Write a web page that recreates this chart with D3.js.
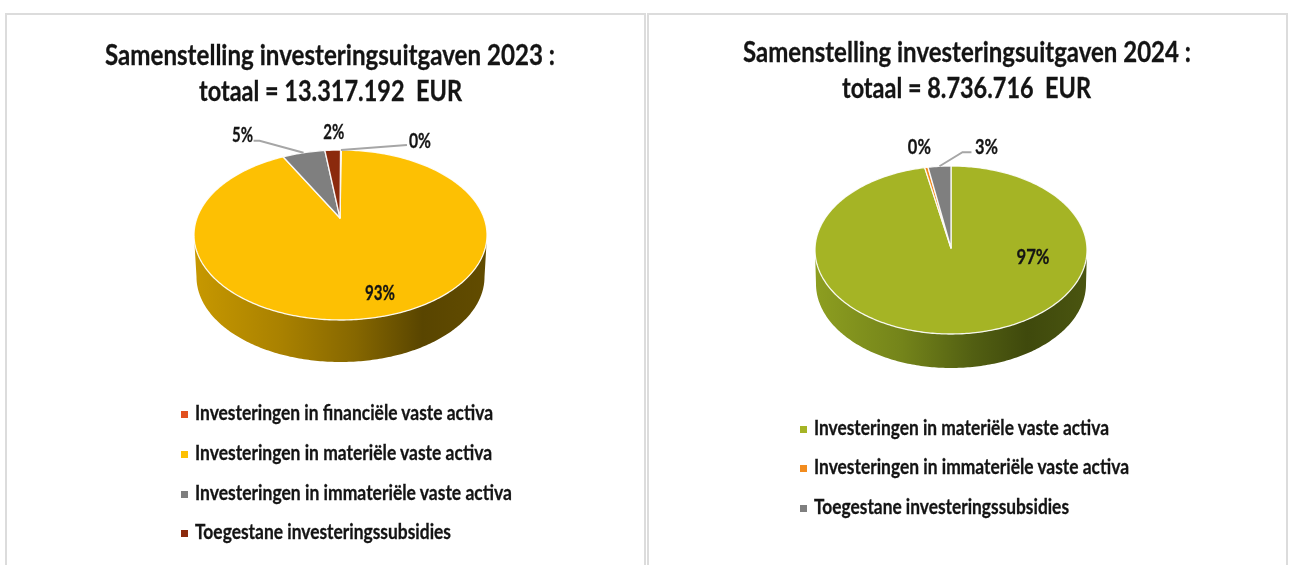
<!DOCTYPE html>
<html><head><meta charset="utf-8">
<script src="https://cdnjs.cloudflare.com/ajax/libs/d3/7.8.5/d3.min.js"></script>
<style>html,body{margin:0;padding:0;background:#fff}svg{display:block;filter:blur(.5px)}text{font-family:Lato,"Liberation Sans",sans-serif;font-weight:700;fill:#141414;stroke:#141414;stroke-width:.3;white-space:pre}</style>
</head><body><svg id="c" width="1291" height="565"></svg>
<script>
// ---- data ----
const categories2023 = ["Investeringen in financiële vaste activa","Investeringen in materiële vaste activa","Investeringen in immateriële vaste activa","Toegestane investeringssubsidies"];
const values2023 = [0.1, 93.49, 4.71, 1.7];
const colors2023 = ["#E2501F","#FDC003","#7F7F7F","#8B2A0D"];
const titles2023 = ["Samenstelling investeringsuitgaven 2023 :","totaal = 13.317.192  EUR"];

const categories2024 = ["Investeringen in materiële vaste activa","Investeringen in immateriële vaste activa","Toegestane investeringssubsidies"];
const values2024 = [96.9, 0.4, 2.7];
const colors2024 = ["#A5B425","#F28C1E","#7F7F7F"];
const titles2024 = ["Samenstelling investeringsuitgaven 2024 :","totaal = 8.736.716  EUR"];

// ---- layout (not data) ----
const layouts = [{
  panel:[6,14,639], cx:340.5, cy:235, rx:146.5, ry:85, apex:[340,218], depth:42, rxB:144,
  titleX:[[105,450],[199,263]], titleY:[65,101],
  legendX:195, legendW:[298,297,317,256], legendY:[420,460,500,539],
  grad:[["0%","#c79800"],["30%","#a98100"],["55%","#866700"],["78%","#594500"],["100%","#624c00"]],
  labels:[{dx:79,dy:-9,leader:[[0,0],[66,-5]]},{fx:[380,293]},{dx:-61,dy:-18,leader:[[0,0],[-44,-12],[-50,-12]]},{dx:1,dy:-18}],
  labelW:[22,30,21,21]
},{
  panel:[648,14,639], cx:951, cy:250, rx:136, ry:84, apex:[951,248], depth:34, rxB:135,
  titleX:[[743,448],[842,249]], titleY:[62,98],
  legendX:814, legendW:[295,315,255], legendY:[435,474,514],
  grad:[["0%","#8d9e20"],["32%","#74841a"],["58%","#525f12"],["78%","#3f490c"],["100%","#4a5510"]],
  labels:[{fx:[1033,257]},{dx:-7,dy:-20},{dx:47,dy:-19,leader:[[0,0],[23,-14],[32,-14]]}],
  labelW:[33,23,23]
}];
const svg = d3.select("#c");
const pct = v => d3.format(".0f")(v) + "%";
const defs = svg.append("defs");

function draw(title, cats, vals, cols, L, idx){
  const g = svg.append("g");
  g.append("path").attr("fill","none").attr("stroke","#dcdcdc").attr("stroke-width",2)
    .attr("d",d3.line()([[L.panel[0],565],[L.panel[0],L.panel[1]],[L.panel[0]+L.panel[2],L.panel[1]],[L.panel[0]+L.panel[2],565]]));
  title.forEach((t,i)=>g.append("text").text(t).attr("x",L.titleX[i][0]).attr("y",L.titleY[i])
    .attr("font-size",29).attr("textLength",L.titleX[i][1]).attr("lengthAdjust","spacingAndGlyphs"));

  const xS = d3.scaleLinear([-1,1],[L.cx-L.rx,L.cx+L.rx]);
  const yS = d3.scaleLinear([-1,1],[L.cy-L.ry,L.cy+L.ry]);
  const xB = d3.scaleLinear([-1,1],[L.cx-L.rxB,L.cx+L.rxB]);
  const yB = d3.scaleLinear([-1,1],[L.cy+L.depth-L.ry,L.cy+L.depth+L.ry]);
  const pt = (a,x=xS,y=yS)=>[x(Math.sin(a)),y(-Math.cos(a))];
  const samples = (a,b)=>{const n=Math.max(2,Math.ceil((b-a)*60));return d3.range(n+1).map(i=>a+(b-a)*i/n);};
  const line = d3.line();

  // side wall
  const id="side"+idx;
  const gr=defs.append("linearGradient").attr("id",id);
  L.grad.forEach(s=>gr.append("stop").attr("offset",s[0]).attr("stop-color",s[1]));
  const front=samples(Math.PI/2,Math.PI*1.5);
  g.append("path").attr("fill",`url(#${id})`)
    .attr("d",line(front.map(a=>pt(a)).concat(front.slice().reverse().map(a=>pt(a,xB,yB))))+"Z");

  // top slices
  const arcs=d3.pie().sort(null)(vals);
  g.selectAll("path.s").data(arcs).join("path").attr("class","s")
    .attr("fill",(d,i)=>cols[i]).attr("stroke","#fff").attr("stroke-opacity",.9).attr("stroke-width",1.3)
    .attr("stroke-linejoin","round")
    .attr("d",d=>line([L.apex].concat(samples(d.startAngle,d.endAngle).map(a=>pt(a))))+"Z");

  // leaders and labels
  arcs.forEach((d,i)=>{
    const c=L.labels[i], mid=(d.startAngle+d.endAngle)/2, p=pt(mid);
    let tx,ty;
    if(c.fx){[tx,ty]=c.fx;} else {tx=p[0]+c.dx;ty=p[1]+c.dy;}
    if(c.leader){
      g.append("path").attr("fill","none").attr("stroke","#a6a6a6").attr("stroke-width",1.9)
       .attr("d",line(c.leader.map(o=>[p[0]+o[0],p[1]+o[1]])));
    }
    g.append("text").text(pct(vals[i])).attr("text-anchor","start").attr("font-size",21)
      .attr("x",tx-L.labelW[i]/2).attr("y",ty+7).attr("textLength",L.labelW[i]).attr("lengthAdjust","spacingAndGlyphs");
  });

  // legend
  cats.forEach((t,i)=>{
    g.append("rect").attr("x",L.legendX-14).attr("y",L.legendY[i]-9).attr("width",7).attr("height",7).attr("fill",cols[i]);
    g.append("text").text(t).attr("x",L.legendX).attr("y",L.legendY[i]).attr("font-size",20.5)
      .attr("textLength",L.legendW[i]).attr("lengthAdjust","spacingAndGlyphs");
  });
}
draw(titles2023,categories2023,values2023,colors2023,layouts[0],0);
draw(titles2024,categories2024,values2024,colors2024,layouts[1],1);
</script></body></html>
